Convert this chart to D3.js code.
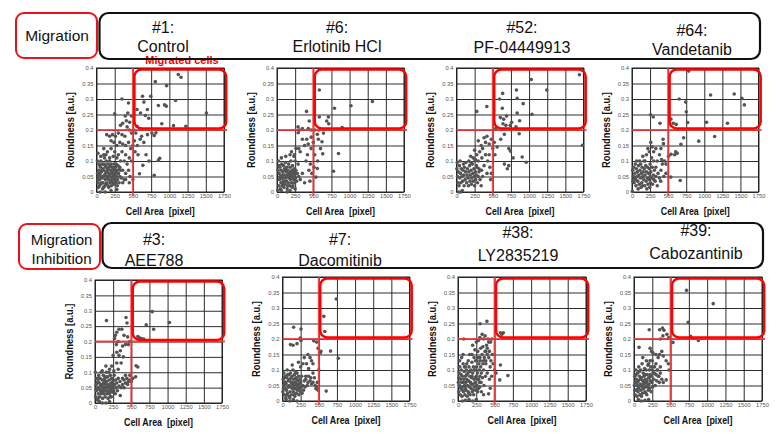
<!DOCTYPE html>
<html><head><meta charset="utf-8">
<script src="https://cdn.jsdelivr.net/npm/d3@7"></script>
<style>body{margin:0;background:#fff}svg{display:block}text{font-family:"Liberation Sans",Arial,sans-serif}</style>
</head><body>
<svg id="c" width="780" height="434"></svg>
<script>
// ---------- data ----------
const xTicks=[0,250,500,750,1000,1250,1500,1750];
const xTickLabels=["0","250","500","750","1000","1250","1500","1750"];
const yTicks=[0,0.05,0.1,0.15,0.2,0.25,0.3,0.35,0.4];
const yTickLabels=["0","0.05","0.1","0.15","0.2","0.25","0.3","0.35","0.4"];
const areaThreshold=500, roundThreshold=0.2;
const gateArea=[520,1780], gateRound=[0.205,0.395];
const rowLabels=[["Migration"],["Migration","Inhibition"]];
const drugIds=["#1:","#6:","#52:","#64:","#3:","#7:","#38:","#39:"];
const drugNames=["Control","Erlotinib HCl","PF-04449913","Vandetanib","AEE788","Dacomitinib","LY2835219","Cabozantinib"];

const ctrlPts=[807,.356,1123,.379,1160,.37,962,.343,632,.309,745,.309,651,.29,1085,.295,849,.279,934,.281,958,.277,557,.266,604,.255,698,.266,670,.247,717,.238,1509,.255,896,.22,1057,.214,1226,.212,
349,.30,439,.287,250,.252,430,.255,395,.245,410,.23,360,.222,330,.215,455,.225,480,.245,515,.2,555,.212,600,.205,540,.19,620,.18,700,.185,760,.19,816,.191,792,.182,650,.16,600,.17,560,.15,520,.165,480,.19,450,.2,420,.21,390,.18,350,.185,300,.19,260,.18,220,.185,180,.18,140,.185,200,.165,240,.16,280,.15,320,.16,360,.155,400,.15,440,.16,470,.14,500,.15,530,.13,570,.12,637,.086,590,.059,849,.102,868,.109,792,.054,680,.12,720,.1,20,.125,
100,.14,150,.13,200,.14,250,.13,300,.12,350,.13,400,.12,450,.11,480,.1,420,.09,380,.1,330,.1,280,.11,230,.115,180,.11,130,.12,270,.09,320,.08,360,.07,400,.06,440,.07,460,.05,500,.04,380,.04,300,.06];
const ctrlBlob=[12,.1,15,.06,18,.04,20,.03,25,.05,28,.015,30,.07,35,.09,38,.055,40,.02,45,.04,48,.085,50,.06,55,.08,58,.025,60,.1,65,.03,68,.065,70,.05,75,.07,78,.045,80,.09,85,.01,88,.075,90,.03,95,.05,98,.015,100,.07,105,.09,108,.055,110,.11,115,.02,118,.085,120,.04,125,.06,128,.025,130,.08,135,.1,138,.065,140,.03,145,.05,148,.045,150,.07,155,.09,158,.075,160,.02,165,.04,168,.015,170,.06,175,.08,178,.055,180,.1,185,.03,188,.085,190,.05,195,.07,198,.035,200,.09,205,.02,208,.065,210,.04,215,.06,218,.045,220,.08,225,.03,228,.075,230,.05,235,.07,238,.025,240,.09,248,.055,250,.04,255,.06,258,.035,260,.08,268,.065,270,.03,275,.05,280,.07,285,.02,290,.04,295,.085,300,.06,310,.03,315,.075,320,.05,330,.07,340,.045,360,.03,400,.04,450,.03,60,.115,100,.12,50,0,120,0,200,.005,280,.008];

const erlPts=[583,.329,792,.27,1019,.278,1315,.292,583,.242,708,.242,685,.229,713,.22,898,.208,407,.26,444,.229,290,.21,310,.2,350,.205,430,.205,470,.2,520,.2,580,.2,640,.19,292,.191,472,.177,556,.186,620,.162,630,.123,847,.124,556,.076,778,.067,537,.048,454,.035,410,.17,430,.155,350,.17,380,.15,470,.14,500,.16,520,.12,560,.1,420,.12,400,.1,460,.09,510,.08,440,.07,480,.06,600,.14,570,.17,300,.14,260,.14,320,.13,200,.13,240,.12];
const erlBlob=[10,.005,20,.1,25,.02,30,.06,35,.04,40,.08,45,.01,50,.05,55,.03,60,.07,65,.09,70,.02,75,.045,80,.065,85,.035,90,.085,95,.015,100,.055,105,.075,110,.025,115,.095,120,.045,125,.065,130,.035,135,.08,140,.01,145,.055,150,.07,155,.03,160,.09,165,.045,170,.06,175,.02,180,.08,185,.04,190,.1,195,.055,200,.03,205,.07,210,.05,215,.085,220,.02,225,.06,230,.04,235,.075,240,.03,245,.055,250,.1,255,.045,260,.07,270,.035,280,.06,290,.09,300,.05,320,.04,350,.06,380,.03,15,.07,28,.085,42,.05,58,.045,72,.055,88,.025,102,.035,118,.07,132,.05,148,.02,162,.06,178,.05,192,.065,208,.015,222,.045,238,.065,60,.005,140,0,180,.005,250,.01,235,.115,180,.12,120,.115,60,.11];

const pfPts=[1694,.378,1031,.363,1244,.329,826,.329,636,.318,836,.302,594,.3,919,.285,631,.27,279,.26,418,.276,836,.255,1040,.251,604,.24,650,.235,690,.245,640,.22,680,.215,740,.215,820,.21,870,.23,760,.225,520,.22,540,.205,864,.188,659,.186,1736,.151,905,.113,961,.096,743,.132,720,.14,660,.09,700,.075,720,.085,780,.11,610,.17,560,.145,530,.12,520,.16,480,.17,450,.155,420,.18,400,.16,380,.175,360,.14,340,.15,300,.165,320,.13,280,.12,250,.135,230,.11,260,.105,300,.1,350,.11,400,.12,430,.1,460,.08,480,.06,500,.14,470,.04,450,.12,420,.06,380,.085,345,.07,310,.075,275,.085];
const pfBlob=[5,.075,15,.05,20,.03,25,.065,35,.02,40,.085,45,.045,55,.06,60,.03,65,.075,75,.05,80,.005,85,.035,90,.07,100,.055,105,.02,110,.08,120,.04,125,.065,130,.095,140,.03,145,.055,150,.075,160,.045,165,.02,170,.065,180,.085,185,.035,190,.055,200,.07,205,.025,210,.045,220,.09,225,.06,230,.035,240,.075,245,.05,250,.02,260,.065,265,.04,275,.055,280,.08,290,.03,300,.05,310,.065,325,.04,340,.02,360,.05,30,0,60,0,10,.095,50,.1,95,.09,170,.1,200,.095,255,.1,195,.115];

const vandPts=[784,.39,1087,.313,1414,.316,1521,.302,1554,.281,653,.3,742,.29,751,.259,770,.224,1031,.225,1321,.222,537,.235,570,.222,611,.218,257,.249,294,.242,387,.222,924,.164,1143,.179,714,.175,677,.154,430,.17,435,.156,605,.13,590,.12,625,.125,540,.122,505,.115,470,.09,667,.037,537,.048,397,.035,350,.1,380,.12,300,.13,260,.16,240,.13,300,.1,330,.08,360,.06,400,.07,420,.09,450,.1,270,.11,200,.12,150,.115,180,.1,250,.09,220,.14,330,.14,400,.14,280,.145,410,.105,440,.05,470,.06];
const vandBlob=[5,.002,10,.07,20,.05,25,.08,30,.03,40,.06,45,.09,50,.04,55,.02,60,.075,70,.05,75,.065,80,.035,90,.085,95,.055,100,.025,110,.07,115,.045,120,.09,130,.06,135,.03,140,.08,150,.05,155,.065,160,.04,170,.075,175,.02,180,.055,190,.085,195,.035,200,.065,210,.045,215,.08,220,.025,230,.06,235,.04,240,.075,250,.05,255,.03,260,.065,270,.045,280,.08,285,.025,295,.055,300,.04,310,.07,320,.035,330,.05,350,.02,380,.045,15,.035,65,.1,105,.1,165,.1,125,.015,205,.01,245,.015,85,.01,35,.045,145,.02];

const aeePts=[789,.297,1026,.262,706,.254,808,.24,590,.216,610,.212,640,.21,673,.208,158,.268,427,.278,441,.26,370,.24,330,.24,300,.23,280,.22,270,.21,295,.19,320,.2,400,.22,450,.215,460,.19,420,.19,480,.2,380,.185,350,.17,300,.165,250,.155,330,.155,390,.15,360,.13,300,.13,230,.12,200,.11,260,.105,320,.11,566,.121,590,.117,520,.08,560,.085,480,.075,348,.024,400,.05,450,.06,500,.07,420,.09,380,.08,150,.12,100,.105];
const aeeBlob=[5,.1,10,.02,15,.06,20,.04,25,.08,30,.01,35,.05,40,.07,45,.03,50,.09,55,.045,60,.065,65,.02,70,.08,75,.04,80,.06,85,.1,90,.03,95,.055,100,.075,105,.015,110,.045,115,.09,120,.065,125,.03,130,.05,135,.08,140,.02,145,.06,150,.04,155,.1,160,.07,165,.03,170,.05,175,.085,180,.015,185,.06,190,.04,195,.075,200,.03,205,.055,210,.09,215,.045,220,.065,225,.02,230,.08,235,.05,240,.035,245,.07,250,.055,260,.04,265,.09,270,.06,280,.03,285,.075,290,.05,300,.065,310,.04,320,.08,330,.055,345,.07,360,.05,380,.06,400,.075,420,.065,440,.08,460,.07,480,.09,12,.045,28,.065,42,.015,58,.08,72,.055,88,.035,102,.06,118,.04,132,.07,148,.085,162,.05,178,.035,192,.1,208,.02,222,.04,238,.06,150,0,100,0,60,.005,200,.005];

const dacoPts=[741,.329,569,.273,583,.224,153,.238,255,.232,245,.203,255,.195,200,.185,145,.18,110,.182,430,.194,470,.19,490,.17,520,.155,530,.16,662,.161,769,.138,602,.032,490,.035,460,.04,350,.15,380,.14,400,.13,420,.12,300,.14,330,.12,360,.105,280,.12,250,.11,220,.125,134,.116,390,.075,420,.06,450,.05,470,.045,500,.1,480,.06,320,.08,350,.06];
const dacoBlob=[5,.03,10,.07,15,.05,20,.09,25,.02,30,.06,35,.04,40,.08,45,.01,50,.055,55,.035,60,.075,65,.1,70,.025,75,.045,80,.065,85,.085,90,.015,95,.05,100,.07,105,.03,110,.09,115,.045,120,.06,125,.02,130,.08,135,.04,140,.055,145,.1,150,.03,155,.07,160,.05,165,.085,170,.015,175,.06,180,.04,185,.075,190,.025,195,.055,200,.09,205,.035,210,.065,215,.045,220,.08,225,.02,230,.055,235,.04,240,.07,245,.03,250,.06,260,.045,265,.08,270,.025,280,.05,290,.035,300,.065,310,.045,320,.07,340,.05,360,.08,380,.065,400,.055,420,.09,440,.075,12,.04,28,.075,42,.06,58,.02,72,.085,88,.045,102,.01,118,.075,132,.06,148,.04,162,.02,178,.095,192,.07,208,.05,100,0,150,.005,200,0,50,.005];

const lyPts=[395,.257,302,.249,600,.215,620,.22,580,.22,330,.215,300,.205,280,.195,250,.19,350,.2,370,.21,79,.2,200,.18,230,.165,270,.16,310,.17,340,.175,380,.16,400,.15,420,.14,450,.13,470,.15,480,.12,440,.11,682,.082,571,.068,441,.041,418,.023,580,.116,500,.1,520,.09,460,.08,430,.07,400,.09,380,.12,350,.13,300,.14,260,.13,220,.14,190,.15,160,.15,140,.13,120,.12,100,.11];
const lyBlob=[5,.06,10,.03,15,.09,20,.05,25,.11,30,.02,35,.07,40,.04,45,.1,50,.06,55,.015,60,.08,65,.045,70,.12,75,.03,80,.07,85,.095,90,.05,95,.02,100,.08,105,.06,110,.035,115,.1,120,.07,125,.015,130,.05,135,.09,140,.03,145,.065,150,.11,155,.045,160,.08,165,.02,170,.06,175,.1,180,.04,185,.075,190,.125,195,.03,200,.09,205,.055,210,.11,215,.02,220,.07,225,.045,230,.1,235,.06,240,.13,245,.035,250,.08,255,.11,260,.05,265,.09,270,.14,275,.07,280,.04,285,.12,290,.1,295,.06,300,.08,305,.13,310,.11,320,.09,330,.15,340,.12,350,.1,360,.14,370,.16,380,.13,390,.18,400,.17,410,.2,420,.19,430,.16,445,.19,460,.2,12,.075,28,.045,42,.085,58,.035,72,.06,88,.11,102,.04,118,.085,132,.065,148,.025,162,.095,178,.055,192,.08,208,.035,222,.1,238,.075,252,.05,268,.03,282,.07,298,.045,315,.06,335,.075,355,.05,375,.08,250,.005,200,0,150,.005,100,.002,60,0,22,.13,50,.14,70,.15,350,.02,320,.03];

const caboPts=[718,.357,1083,.314,741,.254,773,.209,880,.195,532,.189,475,.205,450,.215,395,.21,360,.2,350,.23,410,.228,390,.235,208,.23,69,.173,220,.17,240,.16,260,.155,300,.15,330,.14,350,.15,380,.16,400,.145,440,.13,470,.12,480,.1,440,.068,400,.06,300,.12,250,.13,200,.12,360,.11,320,.1,280,.09,340,.08,380,.07];
const caboBlob=[5,.05,10,.08,15,.02,20,.06,25,.1,30,.035,35,.07,40,.015,45,.05,50,.09,55,.03,60,.065,65,.11,70,.045,75,.08,80,.02,85,.055,90,.1,95,.035,100,.075,105,.05,110,.12,115,.025,120,.065,125,.09,130,.04,135,.08,140,.055,145,.105,150,.03,155,.07,160,.045,165,.1,170,.06,175,.02,180,.085,185,.05,190,.115,195,.035,200,.075,205,.055,210,.1,215,.04,220,.085,225,.065,230,.11,235,.03,240,.08,245,.06,250,.1,255,.045,260,.09,270,.07,280,.11,290,.05,300,.085,310,.065,320,.1,330,.08,345,.06,360,.09,12,.035,28,.085,42,.06,58,.04,72,.095,88,.07,102,.015,118,.045,132,.06,148,.085,162,.025,178,.065,192,.045,208,.075,100,0,60,.005,150,.002,200,.005,170,.13,120,.14,220,.13];

const seriesSets=[[ctrlPts,ctrlBlob],[erlPts,erlBlob],[pfPts,pfBlob],[vandPts,vandBlob],[aeePts,aeeBlob],[dacoPts,dacoBlob],[lyPts,lyBlob],[caboPts,caboBlob]];

// ---------- layout ----------
const panelBoxes=[
 {x:96.5,y:68,w:127.5,h:124},{x:277,y:68,w:127,h:124},{x:456.5,y:68,w:127,h:124},{x:632,y:68,w:126.5,h:124},
 {x:95,y:280,w:127,h:123},{x:282.5,y:277,w:127,h:124},{x:458,y:277,w:128,h:124},{x:634,y:277,w:128,h:124}];
const headerPos=[
 {cx:163,b1:33,b2:52},{cx:337,b1:33,b2:52},{cx:522,b1:33,b2:53},{cx:692,b1:36,b2:55},
 {cx:154,b1:245,b2:266},{cx:340,b1:245,b2:266},{cx:518,b1:238,b2:261},{cx:696,b1:236,b2:259}];

const svg=d3.select("#c");
const pairs=a=>d3.range(0,a.length,2).map(i=>[a[i],a[i+1]]);

function drawPanel(i){
  const B=panelBoxes[i];
  const x=d3.scaleLinear().domain([0,1750]).range([B.x,B.x+B.w]);
  const y=d3.scaleLinear().domain([0,0.4]).range([B.y+B.h,B.y]);
  const g=svg.append("g");
  const ya=g.append("g").attr("transform",`translate(${B.x},0)`)
    .call(d3.axisLeft(y).tickValues(yTicks).tickSize(-B.w).tickPadding(3)
      .tickFormat((d,k)=>yTickLabels[k]));
  const xa=g.append("g").attr("transform",`translate(0,${B.y+B.h})`)
    .call(d3.axisBottom(x).tickValues(xTicks).tickSize(-B.h).tickPadding(3)
      .tickFormat((d,k)=>xTickLabels[k]));
  [ya,xa].forEach(a=>{
    a.select(".domain").remove();
    a.selectAll(".tick line").attr("stroke","#222").attr("stroke-width",0.95);
    a.selectAll("text").attr("font-size",5.8).attr("fill","#555")
      .style("font-family","'Liberation Sans',Arial,sans-serif");
  });
  xa.selectAll("text").attr("dy","0.55em");
  g.append("rect").attr("x",B.x).attr("y",B.y).attr("width",B.w).attr("height",B.h)
    .attr("fill","none").attr("stroke","#222").attr("stroke-width",1);
  const [pts,blob]=seriesSets[i];
  g.append("g").selectAll("circle").data(pairs(blob).concat(pairs(pts))).join("circle")
    .attr("cx",d=>x(d[0])).attr("cy",d=>y(d[1])).attr("r",1.8).attr("fill","#545454");
  g.append("line").attr("x1",x(areaThreshold)).attr("x2",x(areaThreshold))
    .attr("y1",y(0.4)).attr("y2",y(0)+4)
    .attr("stroke","#ee3535").attr("stroke-opacity",0.85).attr("stroke-width",2);
  g.append("line").attr("x1",x(0)).attr("x2",x(1750)+3)
    .attr("y1",y(roundThreshold)).attr("y2",y(roundThreshold))
    .attr("stroke","#ee3535").attr("stroke-opacity",0.85).attr("stroke-width",2);
  g.append("rect").attr("x",x(gateArea[0])).attr("y",y(gateRound[1]))
    .attr("width",x(gateArea[1])-x(gateArea[0])).attr("height",y(gateRound[0])-y(gateRound[1]))
    .attr("rx",7).attr("fill","none").attr("stroke","#ff0000").attr("stroke-width",2.5);
  g.append("text").attr("x",(B.x*2+B.w)/2).attr("y",B.y+B.h+22.5).attr("text-anchor","middle")
    .attr("font-size",11).attr("font-weight","bold").attr("fill","#111")
    .attr("textLength",69).attr("lengthAdjust","spacingAndGlyphs").style("white-space","pre")
    .text("Cell Area  [pixel]");
  g.append("text").attr("transform",`translate(${B.x-22.5},${B.y+B.h/2}) rotate(-90)`)
    .attr("text-anchor","middle").attr("font-size",11).attr("font-weight","bold").attr("fill","#111")
    .attr("textLength",76).attr("lengthAdjust","spacingAndGlyphs")
    .text("Roundness [a.u.]");
}
for(let i=0;i<8;i++) drawPanel(i);

// ---------- headers ----------
svg.append("text").attr("x",182).attr("y",64).attr("text-anchor","middle")
  .attr("font-size",11).attr("font-weight","bold").attr("fill","#ff0000").text("Migrated cells");

const hdr=svg.append("g");
hdr.append("rect").attr("x",16).attr("y",13).attr("width",81).attr("height",45).attr("rx",8)
  .attr("fill","none").attr("stroke","#e8141a").attr("stroke-width",2);
hdr.append("rect").attr("x",99.5).attr("y",13).attr("width",660.5).attr("height",46).attr("rx",9)
  .attr("fill","none").attr("stroke","#111").attr("stroke-width",2.2);
hdr.append("rect").attr("x",19).attr("y",224).attr("width",81).attr("height",45).attr("rx",8)
  .attr("fill","none").attr("stroke","#e8141a").attr("stroke-width",2);
hdr.append("rect").attr("x",102.5).attr("y",223).attr("width",660.5).attr("height",45).attr("rx",9)
  .attr("fill","none").attr("stroke","#111").attr("stroke-width",2.2);

hdr.append("text").attr("x",57).attr("y",40.5).attr("text-anchor","middle").attr("font-size",15.5)
  .attr("fill","#111").text(rowLabels[0][0]);
hdr.append("text").attr("x",61.5).attr("y",245).attr("text-anchor","middle").attr("font-size",15)
  .attr("fill","#111").text(rowLabels[1][0]);
hdr.append("text").attr("x",61.5).attr("y",263.5).attr("text-anchor","middle").attr("font-size",15)
  .attr("fill","#111").text(rowLabels[1][1]);

headerPos.forEach((p,i)=>{
  hdr.append("text").attr("x",p.cx).attr("y",p.b1).attr("text-anchor","middle").attr("font-size",16)
    .attr("fill","#111").text(drugIds[i]);
  hdr.append("text").attr("x",p.cx).attr("y",p.b2).attr("text-anchor","middle").attr("font-size",16)
    .attr("fill","#111").text(drugNames[i]);
});
</script>
</body></html>
